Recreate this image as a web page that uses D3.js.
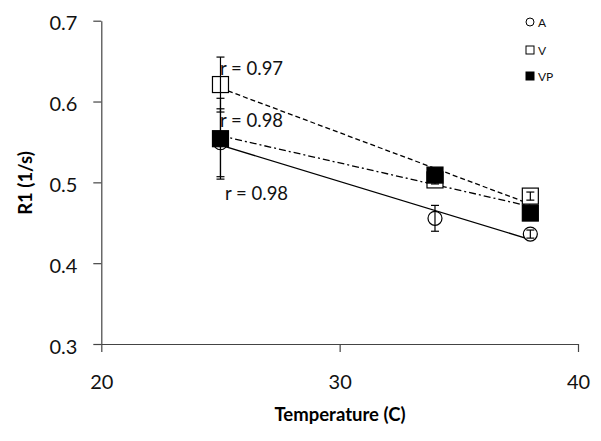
<!DOCTYPE html>
<html><head><meta charset="utf-8">
<script src="https://cdn.jsdelivr.net/npm/d3@7"></script>
<style>body{margin:0;background:#fff}svg{display:block}</style>
</head><body>
<svg id="c" width="601" height="441"></svg>
<script>
const temps = [25, 34, 38];
const seriesNames = ["A", "V", "VP"];
const valuesA = [0.549, 0.4555, 0.436];
const valuesV = [0.621, 0.503, 0.483];
const valuesVP = [0.554, 0.509, 0.462];
const errA = [0.042, 0.016, 0.005];
const errV = [0.034, 0.005, 0.005];
const errVP = [0.05, 0.005, 0.005];
const rLabels = ["r = 0.97", "r = 0.98", "r = 0.98"];
const xTicks = [20, 30, 40];
const yTicks = [0.3, 0.4, 0.5, 0.6, 0.7];

const svg = d3.select("#c");
const x = d3.scaleLinear().domain([20, 40]).range([101.3, 578]);
const y = d3.scaleLinear().domain([0.3, 0.7]).range([344, 20.7]);
const font = "Lato, 'Open Sans', sans-serif";

// axes
const gx = svg.append("g").attr("transform", "translate(0,344)")
  .call(d3.axisBottom(x).tickValues(xTicks).tickFormat(d3.format("d")).tickSize(8).tickSizeOuter(0).tickPadding(23));
const gy = svg.append("g").attr("transform", "translate(101.3,0)")
  .call(d3.axisLeft(y).tickValues(yTicks).tickFormat(d3.format(".1f")).tickSize(8).tickSizeOuter(0).tickPadding(16));
[gx, gy].forEach(g => {
  g.selectAll("path,line").attr("stroke", "#444").attr("stroke-width", 1.2);
  g.selectAll("text").attr("font-family", font).attr("font-size", 20).attr("fill", "#111");
});
gy.selectAll("text").attr("dy", "0.46em");

// titles
svg.append("text").attr("x", 340).attr("y", 421).attr("text-anchor", "middle")
  .attr("font-family", font).attr("font-weight", "bold").attr("font-size", 18.5).text("Temperature (C)");
svg.append("text").attr("transform", "translate(32,183) rotate(-90)").attr("text-anchor", "middle")
  .attr("font-family", font).attr("font-weight", "bold").attr("font-size", 18.5).text("R1 (1/s)");

const series = [
  {name: "A", vals: valuesA, err: errA, dash: null, shape: "circle", fill: "#fff"},
  {name: "V", vals: valuesV, err: errV, dash: "5,3", shape: "square", fill: "#fff"},
  {name: "VP", vals: valuesVP, err: errVP, dash: "7,3,2,3", shape: "square", fill: "#000"}
];

// least-squares trend lines
function fit(xs, ys) {
  const mx = d3.mean(xs), my = d3.mean(ys);
  let sxy = 0, sxx = 0;
  xs.forEach((xi, i) => { sxy += (xi - mx) * (ys[i] - my); sxx += (xi - mx) ** 2; });
  const b = sxy / sxx; return t => my + b * (t - mx);
}
series.forEach(s => {
  const f = fit(temps, s.vals);
  const x0 = d3.min(temps), x1 = d3.max(temps);
  svg.append("line").attr("x1", x(x0)).attr("y1", y(f(x0))).attr("x2", x(x1)).attr("y2", y(f(x1)))
    .attr("stroke", "#000").attr("stroke-width", 1.3).attr("stroke-dasharray", s.dash);
});

// markers + error bars
series.forEach(s => {
  const g = svg.append("g");
  temps.forEach((t, i) => {
    const cx = x(t), cy = y(s.vals[i]);
    if (s.shape === "circle") {
      g.append("circle").attr("cx", cx).attr("cy", cy).attr("r", 7).attr("fill", s.fill).attr("stroke", "#000").attr("stroke-width", 1.2);
    } else {
      g.append("rect").attr("x", cx - 8).attr("y", cy - 8).attr("width", 16).attr("height", 16)
        .attr("fill", s.fill).attr("stroke", "#000").attr("stroke-width", 1.2);
    }
  });
  temps.forEach((t, i) => {
    const cx = x(t), top = y(s.vals[i] + s.err[i]), bot = y(s.vals[i] - s.err[i]);
    g.append("line").attr("x1", cx).attr("x2", cx).attr("y1", top).attr("y2", bot).attr("stroke", "#000").attr("stroke-width", 1.2);
    [top, bot].forEach(yy => g.append("line").attr("x1", cx - 4).attr("x2", cx + 4).attr("y1", yy).attr("y2", yy).attr("stroke", "#000").attr("stroke-width", 1.2));
  });
});

// r labels
const rPos = [[220, 75], [220, 127], [225, 200]];
rLabels.forEach((r, i) => {
  svg.append("text").attr("x", rPos[i][0]).attr("y", rPos[i][1]).attr("font-family", font).attr("font-size", 18.5).attr("fill", "#111").text(r);
});

// legend
const lg = svg.append("g");
const legY = [22, 50, 76];
series.forEach((s, i) => {
  const cy = legY[i];
  if (s.shape === "circle") lg.append("circle").attr("cx", 530).attr("cy", cy).attr("r", 4).attr("fill", "#fff").attr("stroke", "#000").attr("stroke-width", 1);
  else lg.append("rect").attr("x", 526).attr("y", cy - 4).attr("width", 8).attr("height", 8).attr("fill", s.fill).attr("stroke", "#000").attr("stroke-width", 1);
  lg.append("text").attr("x", 538).attr("y", cy + 5).attr("font-family", font).attr("font-size", 12).attr("fill", "#111").text(seriesNames[i]);
});
</script>
</body></html>
